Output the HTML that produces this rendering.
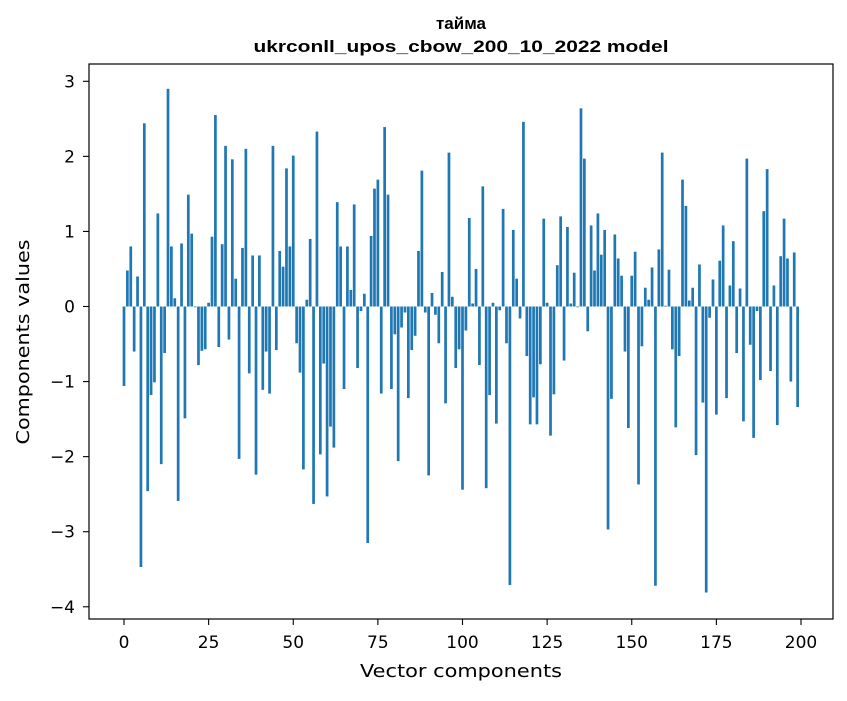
<!DOCTYPE html>
<html><head><meta charset="utf-8"><style>
body{margin:0;background:#fff;}
svg text{font-family:"DejaVu Sans","Liberation Sans",sans-serif;fill:#000;}
svg text.ttl{font-family:"Liberation Sans",sans-serif;}
</style></head><body>
<svg id="chart" width="847" height="696" viewBox="0 0 847 696" xmlns="http://www.w3.org/2000/svg">
<rect width="847" height="696" fill="#fff"/>
<text class="ttl" x="461" y="29" font-size="17" font-weight="bold" text-anchor="middle">тайма</text>
<text class="ttl" x="461" y="52" font-size="17" font-weight="bold" text-anchor="middle" textLength="415" lengthAdjust="spacingAndGlyphs">ukrconll_upos_cbow_200_10_2022 model</text>
<g id="bars"></g>
<g id="xticks"></g>
<g id="yticks"></g>
<rect x="89" y="64" width="744" height="555" fill="none" stroke="#000" stroke-width="1.2"/>
<text x="461" y="677" font-size="18" text-anchor="middle" textLength="202" lengthAdjust="spacingAndGlyphs">Vector components</text>
<text transform="translate(29,342) rotate(-90)" font-size="18" text-anchor="middle" textLength="205" lengthAdjust="spacingAndGlyphs">Components values</text>
</svg>
<script>
const values=[-1.06,0.48,0.80,-0.60,0.40,-3.47,2.44,-2.46,-1.18,-1.01,1.24,-2.10,-0.62,2.90,0.80,0.11,-2.59,0.84,-1.49,1.49,0.97,-0.01,-0.78,-0.59,-0.57,0.05,0.93,2.55,-0.54,0.83,2.14,-0.44,1.96,0.37,-2.03,0.78,2.10,-0.89,0.68,-2.24,0.68,-1.11,-0.60,-1.16,2.14,-0.58,0.74,0.53,1.84,0.80,2.01,-0.49,-0.88,-2.17,0.09,0.90,-2.63,2.33,-1.97,-0.76,-2.53,-1.60,-1.88,1.39,0.80,-1.10,0.80,0.22,1.36,-0.82,-0.06,0.17,-3.15,0.94,1.57,1.69,-1.16,2.39,1.49,-1.10,-0.37,-2.06,-0.28,-0.08,-1.22,-0.58,-0.39,0.74,1.81,-0.08,-2.25,0.18,-0.11,-0.49,0.46,-1.29,2.05,0.13,-0.82,-0.57,-2.44,-0.32,1.18,0.04,0.50,-0.78,1.60,-2.42,-1.18,0.05,-1.56,-0.05,1.30,-0.49,-3.71,1.02,0.37,-0.16,2.46,-0.66,-1.57,-1.21,-1.57,-0.77,1.17,0.05,-1.72,-1.17,0.55,1.20,-0.72,1.06,0.04,0.45,-0.01,2.64,1.97,-0.33,1.08,0.48,1.24,0.69,1.02,-2.97,-1.23,0.96,0.64,0.41,-0.60,-1.62,0.41,0.73,-2.37,-0.53,0.25,0.09,0.52,-3.72,0.76,2.05,0.01,0.49,-0.57,-1.61,-0.66,1.69,1.34,0.08,0.25,-1.98,0.56,-1.28,-3.81,-0.15,0.36,-1.44,0.61,1.08,-1.22,0.28,0.87,-0.62,0.24,-1.53,1.97,-0.51,-1.75,-0.06,-0.98,1.27,1.83,-0.86,0.28,-1.58,0.67,1.17,0.64,-1.00,0.72,-1.34];
const xTickLabels=[0,25,50,75,100,125,150,175,200];
const yTickLabels=[-4,-3,-2,-1,0,1,2,3];
const NS="http://www.w3.org/2000/svg";
function xs(v){return 124+3.385*v;}
function ys(v){return 306.5-75.07*v;}
const bars=document.getElementById('bars');
values.forEach((v,i)=>{
  const r=document.createElementNS(NS,'rect');
  
  
  const x0=xs(i-0.4),x1=xs(i+0.4);
  r.setAttribute('x',x0);r.setAttribute('width',x1-x0);
  r.setAttribute('y',Math.min(ys(v),ys(0)));
  r.setAttribute('height',Math.abs(ys(v)-ys(0)));
  r.setAttribute('fill','#1f77b4');
  bars.appendChild(r);
});
const xg=document.getElementById('xticks');
xTickLabels.forEach(t=>{
  const l=document.createElementNS(NS,'line');
  
  
  l.setAttribute('x1',xs(t));l.setAttribute('x2',xs(t));l.setAttribute('y1',619);l.setAttribute('y2',625);
  l.setAttribute('stroke','#000');l.setAttribute('stroke-width','1.1');
  xg.appendChild(l);
  const tx=document.createElementNS(NS,'text');
  
  
  tx.setAttribute('x',xs(t));tx.setAttribute('y',648);
  tx.setAttribute('font-size','17');tx.setAttribute('text-anchor','middle');
  tx.textContent=t;
  xg.appendChild(tx);
});
const yg=document.getElementById('yticks');
yTickLabels.forEach(t=>{
  const l=document.createElementNS(NS,'line');
  
  
  l.setAttribute('x1',83);l.setAttribute('x2',89);l.setAttribute('y1',ys(t));l.setAttribute('y2',ys(t));
  l.setAttribute('stroke','#000');l.setAttribute('stroke-width','1.1');
  yg.appendChild(l);
  const tx=document.createElementNS(NS,'text');
  
  
  tx.setAttribute('x',75);tx.setAttribute('y',ys(t)+6);
  tx.setAttribute('font-size','17');tx.setAttribute('text-anchor','end');
  tx.textContent=t<0?'\u2212'+Math.abs(t):t;
  yg.appendChild(tx);
});
</script>
</body></html>
